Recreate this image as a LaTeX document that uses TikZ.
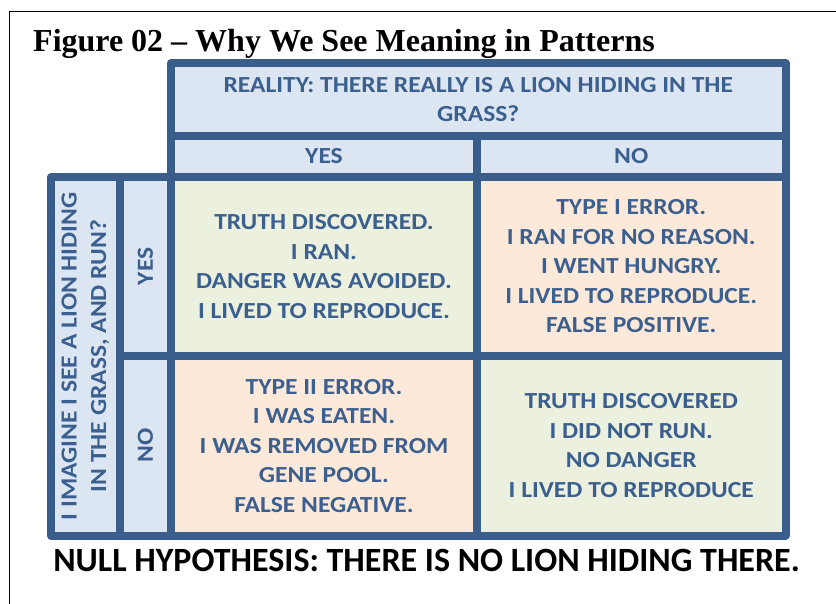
\documentclass[tikz,border=0pt]{standalone}
\usepackage{fontspec}
\setmainfont{Liberation Serif}
\newfontfamily\calib{Carlito}
\newfontfamily\calibwide[FakeStretch=1.11]{Carlito}
\definecolor{gridblue}{HTML}{3A5E8C}
\definecolor{inkblue}{HTML}{3B5F8E}
\definecolor{paleblue}{HTML}{DCE6F2}
\definecolor{palegreen}{HTML}{EBF1DE}
\definecolor{palepeach}{HTML}{FDE9D9}
\tikzset{
  cellbox/.style={draw=gridblue, line width=8pt, line join=round, inner sep=0pt,
    rectangle, anchor=center},
  celltext/.style={text=inkblue, font=\calibwide\bfseries\fontsize{23}{29.5}\selectfont,
    align=center, inner sep=0pt},
}
\begin{document}
\begin{tikzpicture}[x=1pt, y=-1pt]
\useasboundingbox (0,0) rectangle (836,604);
% page frame (runs off the right and bottom edges)
\draw[line width=1.6pt] (9.5,640) -- (9.5,11.5) -- (880,11.5);

% title
\node[anchor=base west, inner sep=0pt, font=\bfseries\fontsize{32}{34}\selectfont] (title) at (33,52)
  {Figure 02 -- Why We See Meaning in Patterns};

% column header block
\node[cellbox, fill=paleblue, minimum width=614.5pt, minimum height=73pt] (hdr) at (478.25,99.5) {};
\node[cellbox, fill=paleblue, minimum width=306pt, minimum height=41pt] (hyes) at (324,156.5) {};
\node[cellbox, fill=paleblue, minimum width=308.5pt, minimum height=41pt] (hno) at (631.25,156.5) {};

% row header block
\node[cellbox, fill=paleblue, minimum width=69pt, minimum height=358.5pt] (imag) at (85.5,356.25) {};
\node[cellbox, fill=paleblue, minimum width=51pt, minimum height=179pt] (ryes) at (145.5,266.5) {};
\node[cellbox, fill=paleblue, minimum width=51pt, minimum height=179.5pt] (rno) at (145.5,445.75) {};

% outcome cells
\node[cellbox, fill=palegreen, minimum width=306pt, minimum height=179pt] (c11) at (324,266.5) {};
\node[cellbox, fill=palepeach, minimum width=308.5pt, minimum height=179pt] (c12) at (631.25,266.5) {};
\node[cellbox, fill=palepeach, minimum width=306pt, minimum height=179.5pt] (c21) at (324,445.75) {};
\node[cellbox, fill=palegreen, minimum width=308.5pt, minimum height=179.5pt] (c22) at (631.25,445.75) {};

% labels
\node[celltext] (thdr) at (hdr.center) {REALITY: THERE REALLY IS A LION HIDING IN THE\\GRASS?};
\node[celltext] (tyes) at (hyes.center) {YES};
\node[celltext] (tno) at (hno.center) {NO};
\node[celltext, rotate=90] (timag) at (imag.center) {I IMAGINE I SEE A LION HIDING\\IN THE GRASS, AND RUN?};
\node[celltext, rotate=90] (tryes) at (ryes.center) {YES};
\node[celltext, rotate=90] (trno) at (rno.center) {NO};
\node[celltext] (t11) at (c11.center) {TRUTH DISCOVERED.\\I RAN.\\DANGER WAS AVOIDED.\\I LIVED TO REPRODUCE.};
\node[celltext] (t12) at (c12.center) {TYPE I ERROR.\\I RAN FOR NO REASON.\\I WENT HUNGRY.\\I LIVED TO REPRODUCE.\\FALSE POSITIVE.};
\node[celltext] (t21) at (c21.center) {TYPE II ERROR.\\I WAS EATEN.\\I WAS REMOVED FROM\\GENE POOL.\\FALSE NEGATIVE.};
\node[celltext] (t22) at (c22.center) {TRUTH DISCOVERED\\I DID NOT RUN.\\NO DANGER\\I LIVED TO REPRODUCE};

% caption under the table
\node[anchor=base, inner sep=0pt, font=\calib\bfseries\fontsize{34}{36}\selectfont] (nullh) at (426.5,571)
  {NULL HYPOTHESIS: THERE IS NO LION HIDING THERE.};
\end{tikzpicture}
\end{document}
